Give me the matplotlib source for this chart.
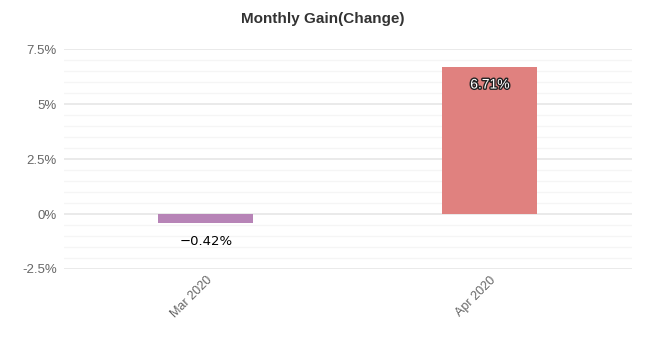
import matplotlib.pyplot as plt
import matplotlib.patheffects as pe
from matplotlib.ticker import MultipleLocator, FuncFormatter

months = ["Mar 2020", "Apr 2020"]
gains = [-0.42, 6.71]
bar_colors = ["#b784b7", "#e0817f"]

plt.rcParams["font.family"] = ["Liberation Sans", "DejaVu Sans"]

fig = plt.figure(figsize=(6.7, 3.39), dpi=100)
ax = fig.add_axes([0.0955, 0.2065, 0.8475, 0.6485])

x = range(len(months))
bars = ax.bar(x, gains, width=0.335, color=bar_colors, zorder=3)

ax.set_xlim(-0.5, len(months) - 0.5)
ax.set_ylim(-2.5, 7.5)
ax.yaxis.set_major_locator(MultipleLocator(2.5))
ax.yaxis.set_minor_locator(MultipleLocator(0.5))
ax.yaxis.set_major_formatter(FuncFormatter(lambda v, _: f"{v:g}%"))
ax.grid(axis="y", which="major", color="#e6e6e6", linewidth=1.2, zorder=0)
ax.grid(axis="y", which="minor", color="#f5f5f5", linewidth=1, zorder=0)

for s in ax.spines.values():
    s.set_visible(False)
ax.tick_params(axis="both", which="both", length=0)
ax.tick_params(axis="y", labelsize=9.5, labelcolor="#666666", pad=5)
ax.set_xticks(list(x))
ax.set_xticklabels(months, rotation=45, ha="right", rotation_mode="anchor",
                   fontsize=9, color="#666666")
ax.tick_params(axis="x", pad=4)

# value labels: negative below the bar, positive inside near the top
for b, v in zip(bars, gains):
    cx = b.get_x() + b.get_width() / 2
    if v < 0:
        ax.text(cx, v - 0.55, f"{v:.2f}%".replace("-", "\u2212"), ha="center", va="top",
                fontsize=9.5, color="#000000", family="DejaVu Sans", zorder=4)
    else:
        ax.text(cx, v - 0.5, f"{v:.2f}%", ha="center", va="top",
                fontsize=10, color="white", zorder=4,
                path_effects=[pe.withStroke(linewidth=2, foreground="#222222")])

fig.text(0.481, 0.944, "Monthly Gain(Change)", ha="center", va="center",
         fontsize=11, fontweight="bold", color="#333333")

fig.savefig("out.png", dpi=100)
